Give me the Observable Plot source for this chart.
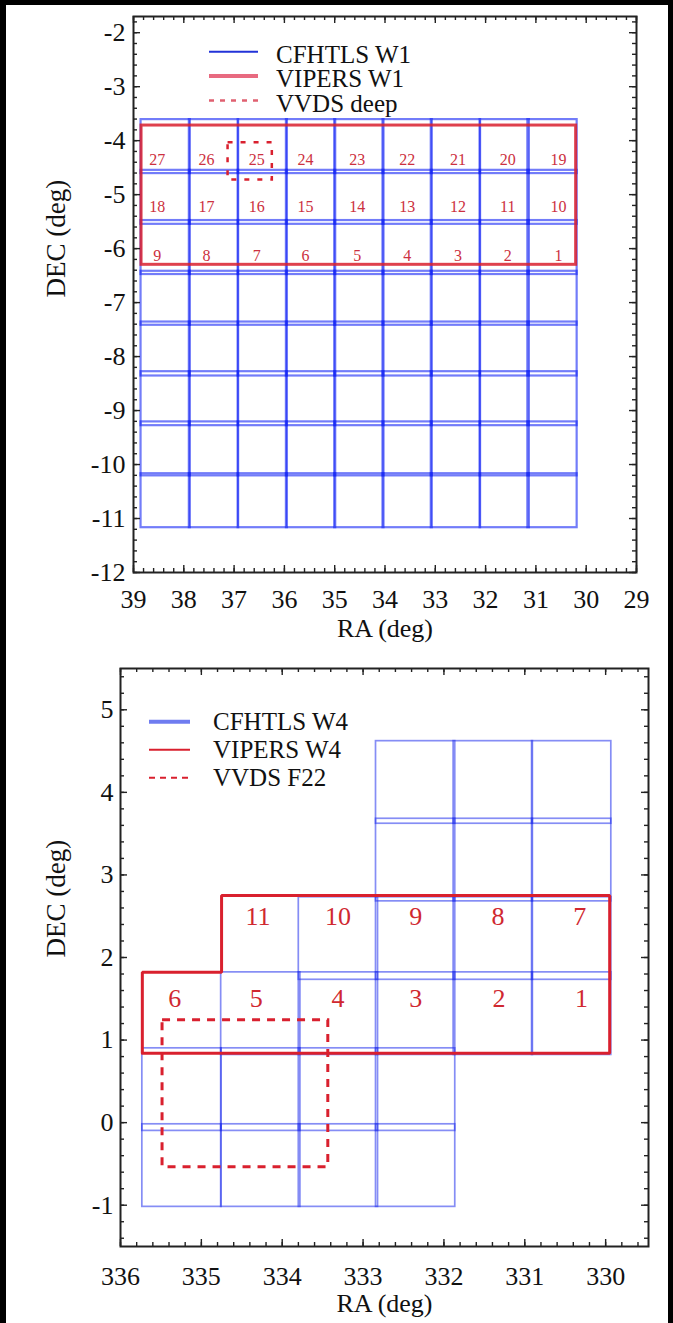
<!DOCTYPE html>
<html><head><meta charset="utf-8">
<script src="https://cdn.jsdelivr.net/npm/d3@7"></script>
<script src="https://cdn.jsdelivr.net/npm/@observablehq/plot@0.6"></script>
<style>
html,body{margin:0;padding:0;background:#fff;}
#page{position:relative;width:673px;height:1323px;background:#fff;overflow:hidden;}
.panel{position:absolute;left:0;}
.strip{position:absolute;background:#000;z-index:10;}
#page svg, #page svg text{font-family:"Liberation Serif","Times New Roman",serif !important;}
</style></head><body>
<div id="page">
  <div id="p1" class="panel" style="top:0"></div>
  <div id="p2" class="panel" style="top:650px"></div>
  <div class="strip" style="left:0;top:0;width:673px;height:5px"></div>
  <div class="strip" style="left:0;top:0;width:6px;height:1323px"></div>
  <div class="strip" style="left:668px;top:0;width:5px;height:1323px"></div>
</div>
<script>
// ---------------- DATA: W1 panel ----------------
const w1TileRA  = [38.36, 37.40, 36.43, 35.47, 34.51, 33.55, 32.59, 31.62, 30.67];
const w1TileDEC = [-4.11, -5.05, -5.98, -6.92, -7.86, -8.78, -9.71, -10.67];
const w1TileHalfRA = 0.49, w1TileHalfDEC = 0.50;
const vipersW1RA  = [38.84, 30.20];
const vipersW1DEC = [-6.30, -3.72];
const vvdsDeepRA  = [37.12, 36.24];
const vvdsDeepDEC = [-4.73, -4.04];
const w1LabelRA  = [38.53, 37.55, 36.55, 35.58, 34.55, 33.56, 32.55, 31.56, 30.55];
const w1LabelDEC = [-4.35, -5.23, -6.13];
const w1Labels = [
  [27, 26, 25, 24, 23, 22, 21, 20, 19],
  [18, 17, 16, 15, 14, 13, 12, 11, 10],
  [9, 8, 7, 6, 5, 4, 3, 2, 1]
];
const w1XTicks = [39, 38, 37, 36, 35, 34, 33, 32, 31, 30, 29];
const w1YTicks = [-2, -3, -4, -5, -6, -7, -8, -9, -10, -11, -12];
const w1Legend = ["CFHTLS W1", "VIPERS W1", "VVDS deep"];

// ---------------- DATA: W4 panel ----------------
const w4ColRA  = [335.24, 334.265, 333.305, 332.35, 331.39, 330.42];
const w4RowDEC = [-0.52, 0.40, 1.32, 2.23, 3.18, 4.12];
const w4Present = [
  [1, 1, 1, 1, 0, 0],
  [1, 1, 1, 1, 0, 0],
  [0, 1, 1, 1, 1, 1],
  [0, 0, 1, 1, 1, 1],
  [0, 0, 0, 1, 1, 1],
  [0, 0, 0, 1, 1, 1]
];
const w4TileHalfRA = 0.49, w4TileHalfDEC = 0.50;
const vipersW4RA  = [335.73, 329.95, 329.95, 334.75, 334.75, 335.73, 335.73];
const vipersW4DEC = [0.84, 0.84, 2.75, 2.75, 1.82, 1.82, 0.84];
const vvdsF22RA  = [335.48, 333.43];
const vvdsF22DEC = [-0.54, 1.24];
const w4LabelTopRA = [334.30, 333.31, 332.35, 331.33, 330.32];
const w4LabelTop   = [11, 10, 9, 8, 7];
const w4LabelTopDEC = 2.49;
const w4LabelBotRA = [335.33, 334.32, 333.31, 332.35, 331.32, 330.30];
const w4LabelBot   = [6, 5, 4, 3, 2, 1];
const w4LabelBotDEC = 1.50;
const w4XTicks = [336, 335, 334, 333, 332, 331, 330];
const w4YTicks = [5, 4, 3, 2, 1, 0, -1];
const w4Legend = ["CFHTLS W4", "VIPERS W4", "VVDS F22"];

// ---------------- helpers ----------------
const RED = "#d9202e";

function frameTicks(xMaj, xMin, yMaj, yMin, W, H) {
  const L = 7, l = 4, s = {stroke: "#222", strokeWidth: 1.4};
  return [
    Plot.tickX(xMin, {x: d => d, insetBottom: H - l, ...s}),
    Plot.tickX(xMin, {x: d => d, insetTop: H - l, ...s}),
    Plot.tickX(xMaj, {x: d => d, insetBottom: H - L, ...s}),
    Plot.tickX(xMaj, {x: d => d, insetTop: H - L, ...s}),
    Plot.tickY(yMin, {y: d => d, insetRight: W - l, ...s}),
    Plot.tickY(yMin, {y: d => d, insetLeft: W - l, ...s}),
    Plot.tickY(yMaj, {y: d => d, insetRight: W - L, ...s}),
    Plot.tickY(yMaj, {y: d => d, insetLeft: W - L, ...s})
  ];
}

function legendMark(labels, styles, o) {
  return (index, scales, values, dims) => {
    const g = d3.create("svg:g");
    labels.forEach((lab, i) => {
      const st = styles[i];
      const y = dims.marginTop + o.y0 + i * o.dy;
      const x = dims.marginLeft + o.x0;
      g.append("line")
        .attr("x1", x).attr("x2", x + o.len).attr("y1", y).attr("y2", y)
        .attr("stroke", st.color).attr("stroke-width", st.width)
        .attr("stroke-opacity", st.opacity ?? 1)
        .attr("stroke-dasharray", st.dash || null);
      g.append("text")
        .attr("x", x + o.len + o.gap).attr("y", y + o.textShift).attr("dy", "0.32em")
        .attr("text-anchor", "start")
        .attr("font-size", o.fontSize).attr("fill", "#111")
        .text(lab);
    });
    return g.node();
  };
}

// ---------------- Panel 1: W1 ----------------
{
  const width = 673, height = 650;
  const mL = 133, mR = 37, mT = 16, mB = 78;
  const W = width - mL - mR, H = height - mT - mB;
  const tiles = w1TileDEC.flatMap(dec => w1TileRA.map(ra => ({ra, dec})));
  const labels = w1LabelDEC.flatMap((dec, r) => w1LabelRA.map((ra, c) => ({ra, dec, t: w1Labels[r][c]})));
  const BLUE = "#1424f5";
  const plot = Plot.plot({
    width, height, marginLeft: mL, marginRight: mR, marginTop: mT, marginBottom: mB,
    style: {background: "transparent", color: "#111"},
    x: {domain: [39, 29], axis: null},
    y: {domain: [-12, -1.7], axis: null},
    marks: [
      Plot.rect(tiles, {
        x1: d => d.ra + w1TileHalfRA, x2: d => d.ra - w1TileHalfRA,
        y1: d => d.dec - w1TileHalfDEC, y2: d => d.dec + w1TileHalfDEC,
        fill: "none", stroke: BLUE, strokeOpacity: 0.6, strokeWidth: 2.2
      }),
      Plot.rect([0], {
        x1: () => vipersW1RA[0], x2: () => vipersW1RA[1],
        y1: () => vipersW1DEC[0], y2: () => vipersW1DEC[1],
        fill: "none", stroke: RED, strokeOpacity: 0.85, strokeWidth: 3
      }),
      Plot.rect([0], {
        x1: () => vvdsDeepRA[0], x2: () => vvdsDeepRA[1],
        y1: () => vvdsDeepDEC[0], y2: () => vvdsDeepDEC[1],
        fill: "none", stroke: RED, strokeWidth: 2.5, strokeDasharray: "5,8"
      }),
      Plot.text(labels, {x: "ra", y: "dec", text: d => String(d.t), fill: "#cc3040",
        fontSize: 16, textAnchor: "middle", lineAnchor: "middle"}),
      Plot.frame({stroke: "#222", strokeWidth: 2}),
      ...frameTicks(w1XTicks, d3.range(29, 39.001, 0.2), w1YTicks, d3.range(-12, -1.69, 0.2), W, H),
      Plot.axisX(w1XTicks, {anchor: "bottom", tickSize: 0, tickPadding: 17.5, tickFormat: d => String(d),
        fontSize: 26, label: null}),
      Plot.axisY(w1YTicks, {anchor: "left", tickSize: 0, tickPadding: 8, tickFormat: d => String(d),
        fontSize: 26, label: null}),
      Plot.text(["RA (deg)"], {frameAnchor: "bottom", dy: 56, lineAnchor: "middle", fontSize: 26, fill: "#111"}),
      Plot.text(["DEC (deg)"], {frameAnchor: "left", dx: -77.5, dy: 3, rotate: -90, lineAnchor: "middle", fontSize: 27, fill: "#111"}),
      legendMark(w1Legend, [
        {color: "#2233d8", width: 2},
        {color: "#e86a80", width: 4},
        {color: "#e06070", width: 2.5, dash: "5,6"}
      ], {x0: 76, y0: 35.7, dy: 24.4, len: 49, gap: 18, textShift: 3, fontSize: 25})
    ]
  });
  document.getElementById("p1").appendChild(plot);
}

// ---------------- Panel 2: W4 ----------------
{
  const width = 673, height = 673;
  const mL = 120, mR = 25, mT = 18, mB = 77;
  const W = width - mL - mR, H = height - mT - mB;
  const tiles = [];
  w4RowDEC.forEach((dec, r) => w4ColRA.forEach((ra, c) => { if (w4Present[r][c]) tiles.push({ra, dec}); }));
  const labTop = w4LabelTopRA.map((ra, i) => ({ra, dec: w4LabelTopDEC, t: w4LabelTop[i]}));
  const labBot = w4LabelBotRA.map((ra, i) => ({ra, dec: w4LabelBotDEC, t: w4LabelBot[i]}));
  const BLUE = "#2030ec";
  const plot = Plot.plot({
    width, height, marginLeft: mL, marginRight: mR, marginTop: mT, marginBottom: mB,
    style: {background: "transparent", color: "#111"},
    x: {domain: [336, 329.47], axis: null},
    y: {domain: [-1.5, 5.5], axis: null},
    marks: [
      Plot.rect(tiles, {
        x1: d => d.ra + w4TileHalfRA, x2: d => d.ra - w4TileHalfRA,
        y1: d => d.dec - w4TileHalfDEC, y2: d => d.dec + w4TileHalfDEC,
        fill: "none", stroke: BLUE, strokeOpacity: 0.55, strokeWidth: 1.7
      }),
      Plot.line(vipersW4RA.map((ra, i) => ({ra, dec: vipersW4DEC[i]})), {
        x: "ra", y: "dec", stroke: RED, strokeWidth: 3, strokeLinejoin: "miter"
      }),
      Plot.rect([0], {
        x1: () => vvdsF22RA[0], x2: () => vvdsF22RA[1],
        y1: () => vvdsF22DEC[0], y2: () => vvdsF22DEC[1],
        fill: "none", stroke: RED, strokeWidth: 3, strokeDasharray: "8,7"
      }),
      Plot.text([...labTop, ...labBot], {x: "ra", y: "dec", text: d => String(d.t), fill: "#d02830",
        fontSize: 26, textAnchor: "middle", lineAnchor: "middle"}),
      Plot.frame({stroke: "#222", strokeWidth: 2}),
      ...frameTicks(w4XTicks, d3.range(329.6, 336.001, 0.2), w4YTicks, d3.range(-1.4, 5.401, 0.2), W, H),
      Plot.axisX(w4XTicks, {anchor: "bottom", tickSize: 0, tickPadding: 20, tickFormat: d => String(d),
        fontSize: 26, label: null}),
      Plot.axisY(w4YTicks, {anchor: "left", tickSize: 0, tickPadding: 7, tickFormat: d => String(d),
        fontSize: 26, label: null}),
      Plot.text(["RA (deg)"], {frameAnchor: "bottom", dy: 57, lineAnchor: "middle", fontSize: 26, fill: "#111"}),
      Plot.text(["DEC (deg)"], {frameAnchor: "left", dx: -64.5, dy: 0, rotate: -90, lineAnchor: "middle", fontSize: 27, fill: "#111"}),
      legendMark(w4Legend, [
        {color: "#6f7cf0", width: 4},
        {color: RED, width: 2},
        {color: RED, width: 2, dash: "6,5"}
      ], {x0: 29, y0: 53.7, dy: 28, len: 41, gap: 23, textShift: 0, fontSize: 25})
    ]
  });
  document.getElementById("p2").appendChild(plot);
}
</script>
</body></html>
